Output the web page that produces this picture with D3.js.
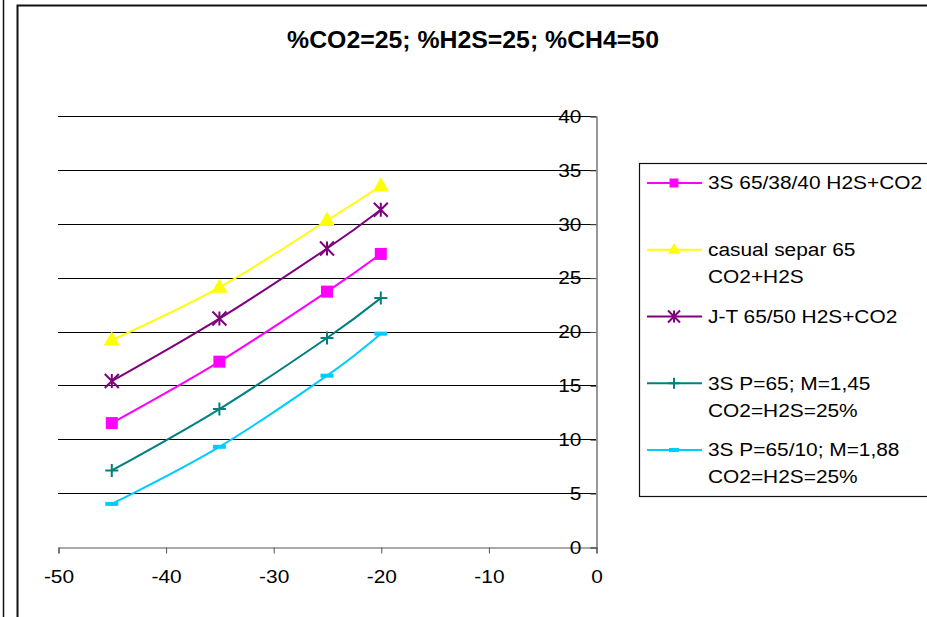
<!DOCTYPE html>
<html>
<head>
<meta charset="utf-8">
<script src="https://cdn.jsdelivr.net/npm/d3@7"></script>
<style>
  html, body { margin: 0; padding: 0; background: #fff; }
  svg { display: block; font-family: "Liberation Sans", Arial, sans-serif; }
</style>
</head>
<body>
<div id="chart"></div>
<script>
// values
const xValues = [-45, -35, -25, -20];
const pinkValues = [11.5, 17.2, 23.7, 27.2];
const yellowValues = [19.2, 24.1, 30.3, 33.5];
const purpleValues = [15.4, 21.2, 27.7, 31.3];
const tealValues = [7.1, 12.8, 19.4, 23.1];
const cyanValues = [4.0, 9.3, 15.9, 19.8];

const seriesNames = [
  ["3S 65/38/40 H2S+CO2"],
  ["casual separ 65", "CO2+H2S"],
  ["J-T 65/50 H2S+CO2"],
  ["3S P=65; M=1,45", "CO2=H2S=25%"],
  ["3S P=65/10; M=1,88", "CO2=H2S=25%"]
];
const xTicks = [-50, -40, -30, -20, -10, 0];
const yTicks = [0, 5, 10, 15, 20, 25, 30, 35, 40];
const title = "%CO2=25; %H2S=25; %CH4=50";

const W = 927, H = 617;
const SX = 1.16; // the source picture is stretched sideways

const series = [
  { name: seriesNames[0], values: pinkValues, color: "#ff00ff", marker: "square" },
  { name: seriesNames[1], values: yellowValues, color: "#ffff00", marker: "triangle" },
  { name: seriesNames[2], values: purpleValues, color: "#800080", marker: "star" },
  { name: seriesNames[3], values: tealValues, color: "#008080", marker: "plus" },
  { name: seriesNames[4], values: cyanValues, color: "#00ccff", marker: "dash" }
];

const svg = d3.select("#chart").append("svg")
  .attr("width", W)
  .attr("height", H);

// frames
svg.append("line").attr("x1", 3.5).attr("x2", 3.5).attr("y1", 0).attr("y2", H)
  .attr("stroke", "#111").attr("stroke-width", 1.5);
svg.append("path")
  .attr("d", `M17.5,${H} V5.5 H${W}`)
  .attr("fill", "none").attr("stroke", "#111").attr("stroke-width", 2);

svg.append("text")
  .attr("transform", `translate(473,48) scale(1.08,1)`)
  .attr("text-anchor", "middle")
  .style("font-size", "23px")
  .style("font-weight", "bold")
  .text(title);

const x = d3.scaleLinear().domain([-50, 0]).range([58, 596]);
const y = d3.scaleLinear().domain([0, 40]).range([547, 116]);

// gridlines
svg.append("g")
  .selectAll("line")
  .data(yTicks.filter(d => d > 0))
  .join("line")
    .attr("x1", x(-50)).attr("x2", x(0))
    .attr("y1", d => Math.round(y(d)) + 0.5)
    .attr("y2", d => Math.round(y(d)) + 0.5)
    .attr("stroke", "#000")
    .attr("stroke-width", 1);

const xAxis = svg.append("g")
  .attr("transform", `translate(0.5,${Math.round(y(0)) + 0.5})`)
  .call(d3.axisBottom(x).tickValues(xTicks).tickFormat(d => String(d))
    .tickSizeOuter(0).tickSize(6).tickPadding(17));

const yAxis = svg.append("g")
  .attr("transform", `translate(${Math.round(x(0)) + 0.5},0.5)`)
  .call(d3.axisLeft(y).tickValues(yTicks).tickFormat(d => String(d))
    .tickSizeOuter(0).tickSize(6).tickPadding(7));

[xAxis, yAxis].forEach(a => {
  a.attr("font-size", null).attr("font-family", null);
  a.select(".domain").attr("stroke", "#555").attr("stroke-width", 1.2);
  a.selectAll(".tick line").attr("stroke", "#555");
  a.selectAll("text")
    .style("font-size", "18px")
    .attr("fill", "#000")
    .attr("transform", `scale(${SX},1)`);
});

// series lines and markers
const line = d3.line()
  .x((d, i) => x(xValues[i]))
  .y(d => y(d))
  .curve(d3.curveCatmullRom.alpha(0));

function drawMarker(g, type, s, color) {
  if (type === "square") {
    g.append("rect").attr("x", -s / 2).attr("y", -s / 2).attr("width", s).attr("height", s)
      .attr("fill", color);
  } else if (type === "triangle") {
    const h = s * 0.9;
    g.append("path")
      .attr("d", `M0,${-h * 0.62} L${s / 2},${h * 0.38} L${-s / 2},${h * 0.38} Z`)
      .attr("fill", color);
  } else if (type === "star") {
    const r = s / 2;
    g.append("path")
      .attr("d", `M${-r},${-r} L${r},${r} M${-r},${r} L${r},${-r} M0,${-r} V${r}`)
      .attr("stroke", color).attr("stroke-width", 2).attr("fill", "none");
  } else if (type === "plus") {
    const r = s / 2;
    g.append("path")
      .attr("d", `M${-r},0 H${r} M0,${-r} V${r}`)
      .attr("stroke", color).attr("stroke-width", 2).attr("fill", "none");
  } else if (type === "dash") {
    g.append("rect").attr("x", -s / 2).attr("y", -2).attr("width", s).attr("height", 4)
      .attr("fill", color);
  }
}

const markerSize = { square: 12, triangle: 16, star: 14, plus: 13, dash: 13 };

series.forEach(s => {
  svg.append("path")
    .datum(s.values)
    .attr("d", line)
    .attr("fill", "none")
    .attr("stroke", s.color)
    .attr("stroke-width", 2);
  s.values.forEach((v, i) => {
    const g = svg.append("g").attr("transform", `translate(${x(xValues[i])},${y(v)})`);
    drawMarker(g, s.marker, markerSize[s.marker], s.color);
  });
});

// legend
const legend = svg.append("g");
legend.append("rect")
  .attr("x", 639.5).attr("y", 163.5)
  .attr("width", 320).attr("height", 333)
  .attr("fill", "#fff").attr("stroke", "#111").attr("stroke-width", 1.2);

const legendMarkerSize = { square: 9, triangle: 12, star: 12, plus: 11, dash: 10 };

series.forEach((s, i) => {
  const ly = 183 + i * 66.75;
  const item = legend.append("g").attr("transform", `translate(0,${ly})`);
  item.append("line")
    .attr("x1", 647).attr("x2", 702).attr("y1", 0).attr("y2", 0)
    .attr("stroke", s.color).attr("stroke-width", 2);
  const m = item.append("g").attr("transform", "translate(674,0)");
  drawMarker(m, s.marker, legendMarkerSize[s.marker], s.color);
  s.name.forEach((t, j) => {
    item.append("text")
      .attr("transform", `translate(708,${j * 27}) scale(${SX},1)`)
      .attr("dy", "0.35em")
      .style("font-size", "18px")
      .text(t);
  });
});
</script>
</body>
</html>
